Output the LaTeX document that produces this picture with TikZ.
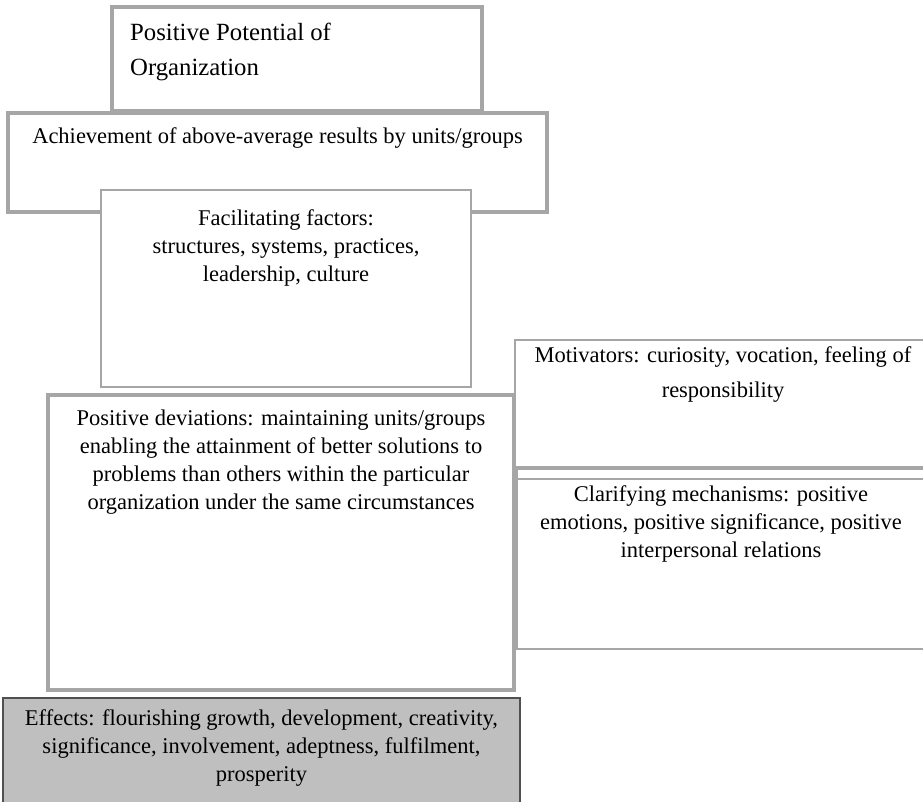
\documentclass[tikz,border=0pt]{standalone}
\usepackage{fontspec}
\setmainfont{Liberation Serif}
\usetikzlibrary{positioning}
\definecolor{boxgray}{RGB}{166,166,166}
\definecolor{effgray}{RGB}{191,191,191}
\definecolor{effline}{RGB}{80,80,80}
\newcommand{\txtSize}{\fontsize{22.5}{28}\selectfont}
\tikzset{
  fgbox/.style   ={draw=boxgray,fill=white,inner sep=0pt,outer sep=0pt,anchor=north west},
  thickbox/.style={fgbox,line width=4pt},
  thinbox/.style ={fgbox,line width=2pt},
  effbox/.style  ={fgbox,fill=effgray,draw=effline,line width=1.5pt},
  ftxt/.style    ={inner sep=0pt,font=\txtSize,align=center,anchor=base},
}

\begin{document}
\begin{tikzpicture}[x=1pt,y=-1pt]
  \useasboundingbox (0,0) rectangle (923,801);
  % top boxes (text nodes sit on the baseline of their last line)
  \node[thickbox,minimum width=370pt,minimum height=104pt] (potential) at (112,7) {};
  \node[ftxt,align=left,anchor=base west,font=\fontsize{24.75}{35}\selectfont] (potentialtxt) at (130,75)
    {Positive Potential of\\Organization};
  \node[thickbox,minimum width=539pt,minimum height=99pt] (results) at (8,113) {};
  \node[ftxt] (resultstxt) at (277.5,143) {Achievement of above-average results by units/groups};
  \node[thinbox,minimum width=370pt,minimum height=197pt] (factors) at (101,190) {};
  \node[ftxt] (factorstxt) at (286,281)
    {Facilitating factors:\\structures, systems, practices,\\leadership, culture};
  % middle
  \node[thickbox,minimum width=466pt,minimum height=295pt] (deviations) at (48,395) {};
  \node[ftxt] (deviationstxt) at (281,509)
    {Positive deviations: maintaining units/groups\\enabling the attainment of better solutions to\\problems than others within the particular\\organization under the same circumstances};
  \node[thinbox,minimum width=410pt,minimum height=127pt] (motivators) at (515,340) {};
  \node[ftxt,font=\fontsize{22.5}{35}\selectfont] (motivatorstxt) at (723,397)
    {Motivators: curiosity, vocation, feeling of\\responsibility};
  \node[thinbox,minimum width=408pt,minimum height=10pt] (strip) at (517,469) {};
  \node[thinbox,minimum width=408pt,minimum height=170pt] (mechanisms) at (517,479) {};
  \node[ftxt] (mechanismstxt) at (721,557)
    {Clarifying mechanisms: positive\\emotions, positive significance, positive\\interpersonal relations};
  % bottom
  \node[effbox,minimum width=517pt,minimum height=115pt] (effects) at (3,698) {};
  \node[ftxt] (effectstxt) at (261.5,781)
    {Effects: flourishing growth, development, creativity,\\significance, involvement, adeptness, fulfilment,\\prosperity};
\end{tikzpicture}
\end{document}
